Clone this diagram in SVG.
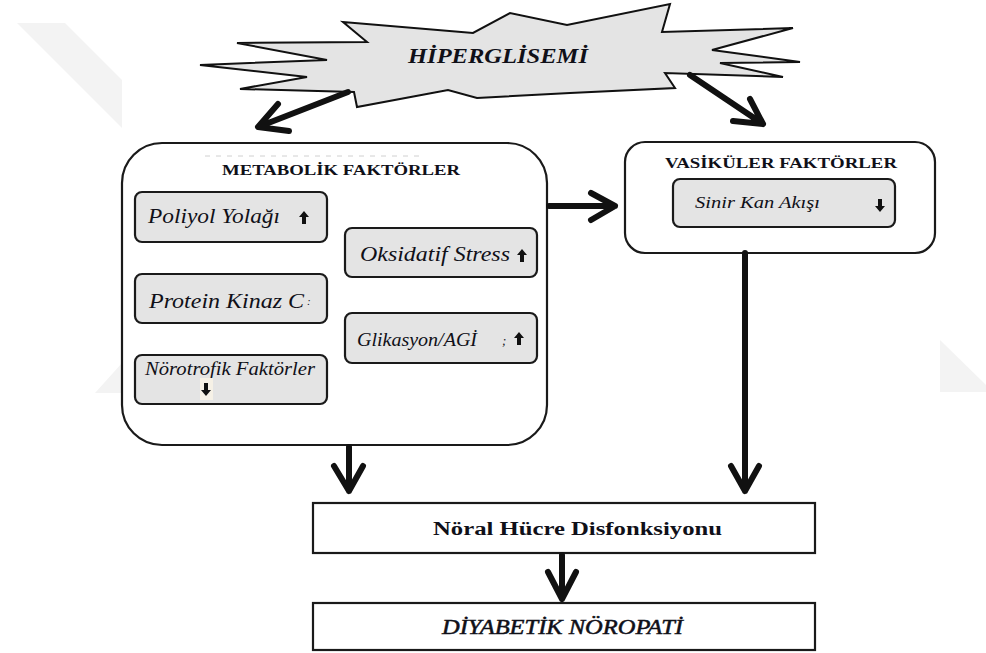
<svg xmlns="http://www.w3.org/2000/svg" width="986" height="653" viewBox="0 0 986 653">
<style>
.title{font-family:"Liberation Serif","DejaVu Serif","Noto Serif",serif;font-weight:bold;fill:#101018}
.it{font-family:"Liberation Serif","DejaVu Serif","Noto Serif",serif;font-style:italic;fill:#101018}
.big{fill:#fff;stroke:#1a1a1a;stroke-width:2.2}
.inner{fill:#e4e4e4;stroke:#1a1a1a;stroke-width:2.2}
.conn{fill:none;stroke:#111;stroke-width:6;stroke-linecap:round;stroke-linejoin:round}
.wm{fill:#f3f3f3}
</style>
<defs>
<path id="up" d="M0,-7 L5,-1 L2,-1 L2,6 L-2,6 L-2,-1 L-5,-1 Z" fill="#111"/>
</defs>
<rect width="986" height="653" fill="#fff"/>
<g id="watermark">
<polygon class="wm" points="17,23 65,23 122,80 122,128"/>
<polygon class="wm" points="95,393 122,363 122,393"/>
<polygon class="wm" points="940,340 986,385 986,392 940,392"/>
</g>
<g id="hiperglisemi">
<polygon points="200,65 327,60 237,43 367,42 343,22 473,33 510,13 567,25 670,4 662,32 793,28 712,50 800,62 720,63 783,77 665,73 675,88 570,93 477,98 448,90 357,107 354,92 240,89 307,77" fill="#e4e4e4" stroke="#111" stroke-width="2" stroke-linejoin="miter"/>
<text class="title" x="408" y="63" font-size="22" font-style="italic" textLength="180" lengthAdjust="spacingAndGlyphs">HİPERGLİSEMİ</text>
</g>
<g id="metabolik">
<rect class="big" x="122" y="143" width="425" height="302" rx="40"/>
<line x1="205" y1="156" x2="422" y2="156" stroke="#d0d0d0" stroke-width="1" stroke-dasharray="5,6"/>
<text class="title" x="222" y="175" font-size="15" textLength="238" lengthAdjust="spacingAndGlyphs">METABOLİK FAKTÖRLER</text>
</g>
<g id="poliyol">
<rect class="inner" x="135" y="192" width="192" height="50" rx="7"/>
<text class="it" x="148" y="223" font-size="20" textLength="132" lengthAdjust="spacingAndGlyphs">Poliyol Yolağı</text>
<use href="#up" x="304" y="218"/>
</g>
<g id="oksidatif">
<rect class="inner" x="345" y="228" width="192" height="49" rx="7"/>
<text class="it" x="360" y="261" font-size="20" textLength="150" lengthAdjust="spacingAndGlyphs">Oksidatif Stress</text>
<use href="#up" x="522" y="256"/>
</g>
<g id="protein">
<rect class="inner" x="135" y="274" width="192" height="49" rx="7"/>
<text class="it" x="149" y="308" font-size="20" textLength="155" lengthAdjust="spacingAndGlyphs">Protein Kinaz C</text>
<text class="it" x="307" y="305" font-size="11" fill="#555">:</text>
</g>
<g id="glikasyon">
<rect class="inner" x="345" y="313" width="192" height="50" rx="7"/>
<text class="it" x="357" y="346" font-size="18" textLength="120" lengthAdjust="spacingAndGlyphs">Glikasyon/AGİ</text>
<text class="it" x="502" y="345" font-size="13">;</text>
<use href="#up" x="519" y="339"/>
</g>
<g id="norotrofik">
<rect class="inner" x="135" y="355" width="192" height="49" rx="7"/>
<text class="it" x="145" y="375" font-size="18" textLength="170" lengthAdjust="spacingAndGlyphs">Nörotrofik Faktörler</text>
<rect x="200" y="378" width="13" height="22" fill="#f6f1e6"/>
<use href="#up" transform="translate(206,389) rotate(180)"/>
</g>
<g id="vasikuler">
<rect class="big" x="625" y="142" width="310" height="111" rx="20"/>
<text class="title" x="665" y="168" font-size="15" textLength="232" lengthAdjust="spacingAndGlyphs">VASİKÜLER FAKTÖRLER</text>
</g>
<g id="sinir">
<rect class="inner" x="673" y="179" width="222" height="48" rx="7"/>
<text class="it" x="695" y="208" font-size="17" textLength="125" lengthAdjust="spacingAndGlyphs">Sinir Kan Akışı</text>
<use href="#up" transform="translate(880,205) rotate(180)"/>
</g>
<g id="noral">
<rect x="313" y="503" width="502" height="50" fill="#fff" stroke="#1a1a1a" stroke-width="2.2"/>
<text class="title" x="433" y="535" font-size="18" textLength="289" lengthAdjust="spacingAndGlyphs">Nöral Hücre Disfonksiyonu</text>
</g>
<g id="diyabetik">
<rect x="313" y="603" width="502" height="47" fill="#fff" stroke="#1a1a1a" stroke-width="2.2"/>
<text class="it" x="442" y="634" font-size="20" stroke="#101018" stroke-width="0.5" textLength="241" lengthAdjust="spacingAndGlyphs">DİYABETİK NÖROPATİ</text>
</g>
<g id="connectors">
<path class="conn" d="M348,92 L258,127 M278,104 L258,127 L289,131"/>
<path class="conn" d="M690,75 L763,124 M750,99 L763,124 L733,121"/>
<path class="conn" d="M549,206 L615,206 M591,193 L615,206 L591,220"/>
<path class="conn" d="M745,253 L745,491 M731,466 L745,491 L759,466"/>
<path class="conn" d="M349,447 L349,491 M334,466 L349,491 L363,466"/>
<path class="conn" d="M562,555 L562,599 M548,572 L562,599 L576,572"/>
</g>
</svg>
